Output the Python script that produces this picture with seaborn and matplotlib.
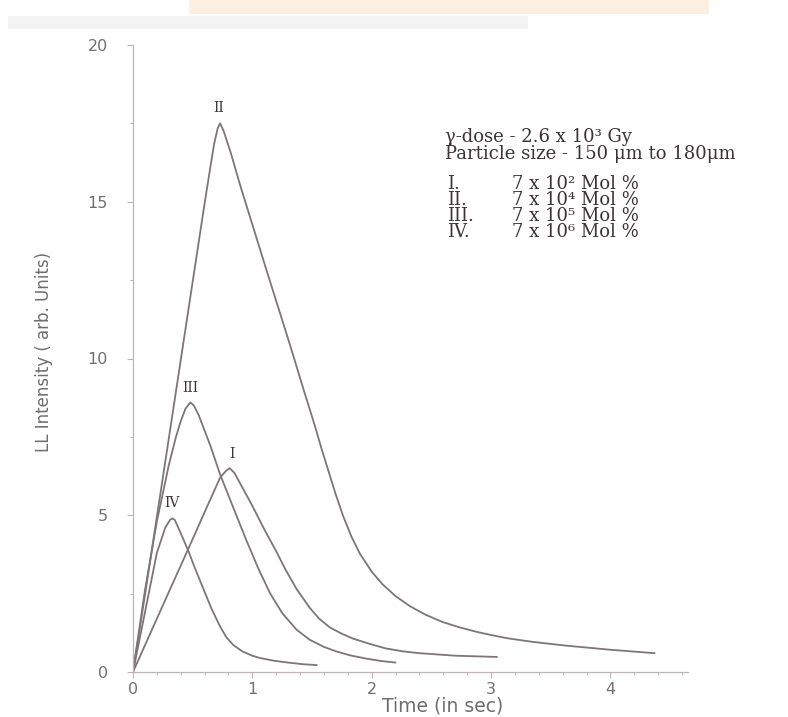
import numpy as np
import pandas as pd
import matplotlib
matplotlib.use("Agg")
import matplotlib.pyplot as plt
import seaborn as sns
from matplotlib.ticker import MultipleLocator
from matplotlib.patches import Rectangle

# ---- data ----
curve_names = ["I", "II", "III", "IV"]

t_I = [0, 0.1, 0.2, 0.3, 0.46, 0.6, 0.73, 0.78, 0.81, 0.85, 0.9, 1.0, 1.1, 1.2, 1.28, 1.37, 1.48, 1.56,
       1.65, 1.75, 1.84, 1.98, 2.12, 2.26, 2.4, 2.7, 3.05]
y_I = [0, 0.85, 1.7, 2.55, 3.9, 5.1, 6.2, 6.42, 6.5, 6.35, 6.0, 5.3, 4.55, 3.85, 3.25, 2.65, 2.05, 1.7,
       1.42, 1.22, 1.07, 0.9, 0.75, 0.66, 0.6, 0.52, 0.48]

t_II = [0, 0.1, 0.2, 0.31, 0.4, 0.48, 0.55, 0.6, 0.65, 0.68, 0.71, 0.73, 0.76, 0.82, 0.9, 1.12, 1.31,
        1.43, 1.52, 1.58, 1.64, 1.70, 1.76, 1.83, 1.9, 2.0, 2.09, 2.2, 2.32, 2.45, 2.59, 2.73, 2.88,
        3.0, 3.13, 3.35, 3.63, 4.0, 4.37]
y_II = [0, 2.45, 4.95, 7.7, 9.95, 11.95, 13.7, 14.95, 16.15, 16.85, 17.35, 17.5, 17.25, 16.55, 15.5, 12.8, 10.5,
        9.0, 7.9, 7.12, 6.38, 5.65, 4.98, 4.32, 3.78, 3.2, 2.8, 2.42, 2.1, 1.83, 1.6, 1.43, 1.28,
        1.18, 1.08, 0.96, 0.84, 0.71, 0.6]

t_III = [0, 0.1, 0.2, 0.3, 0.36, 0.4, 0.44, 0.48, 0.51, 0.55, 0.65, 0.73, 0.85, 0.95, 1.05, 1.15, 1.25,
         1.37, 1.48, 1.6, 1.7, 1.82, 1.95, 2.08, 2.2]
y_III = [0, 2.6, 4.8, 6.6, 7.5, 8.0, 8.4, 8.6, 8.5, 8.2, 7.2, 6.3, 5.15, 4.2, 3.3, 2.5, 1.88,
         1.35, 1.03, 0.8, 0.66, 0.53, 0.43, 0.35, 0.3]

t_IV = [0, 0.1, 0.2, 0.27, 0.31, 0.33, 0.35, 0.38, 0.42, 0.46, 0.52, 0.59, 0.66, 0.73, 0.78, 0.84, 0.92,
        1.0, 1.06, 1.18, 1.3, 1.42, 1.54]
y_IV = [0, 1.9, 3.8, 4.6, 4.85, 4.9, 4.85, 4.6, 4.25, 3.9, 3.3, 2.65, 2.0, 1.45, 1.12, 0.86, 0.65,
        0.52, 0.45, 0.36, 0.3, 0.25, 0.22]

peak_label_x = [0.83, 0.72, 0.48, 0.33]
peak_label_y = [6.95, 18.0, 9.05, 5.4]

x_ticks = [0, 1, 2, 3, 4]
y_ticks = [0, 5, 10, 15, 20]

legend_head = ["\u03b3-dose - 2.6 x 10\u00b3 Gy", "Particle size - 150 \u03bcm to 180\u03bcm"]
legend_ids = ["I.", "II.", "III.", "IV."]
legend_conc = ["7 x 10\u00b2 Mol %", "7 x 10\u2074 Mol %", "7 x 10\u2075 Mol %", "7 x 10\u2076 Mol %"]

# ---- long-form table ----
frames = []
for name, t, y in zip(curve_names, [t_I, t_II, t_III, t_IV], [y_I, y_II, y_III, y_IV]):
    frames.append(pd.DataFrame({"t": t, "LL": y, "curve": name}))
df = pd.concat(frames, ignore_index=True)

# ---- style ----
sns.set_theme(style="ticks")
plt.rcParams["font.family"] = ["DejaVu Sans"]

W, H = 788, 717
fig = plt.figure(figsize=(W / 100, H / 100), dpi=100)
fig.patch.set_facecolor("white")

# faint scan artefacts at the top edge
fig.patches.append(Rectangle((0.24, 0.981), 0.66, 0.019, transform=fig.transFigure,
                             facecolor="#fdf0e2", edgecolor="none", zorder=0))
fig.patches.append(Rectangle((0.01, 0.960), 0.66, 0.018, transform=fig.transFigure,
                             facecolor="#f3f3f3", edgecolor="none", zorder=0))

ax = fig.add_axes([133 / W, 1 - 672 / H, (688 - 133) / W, (672 - 45) / H])
ax.set_facecolor("none")

line_col = "#7e7676"
sns.lineplot(data=df, x="t", y="LL", hue="curve", units="curve", estimator=None, sort=False,
             palette={n: line_col for n in curve_names}, legend=False, linewidth=1.3, ax=ax)

ax.set_xlim(0, 4.65)
ax.set_ylim(0, 20)
ax.set_xticks(x_ticks)
ax.set_yticks(y_ticks)
ax.xaxis.set_minor_locator(MultipleLocator(0.2))
ax.yaxis.set_minor_locator(MultipleLocator(2.5))

for s in ["top", "right"]:
    ax.spines[s].set_visible(False)
for s in ["left", "bottom"]:
    ax.spines[s].set_color("#bdb5b5")
    ax.spines[s].set_linewidth(0.9)

ax.tick_params(axis="both", which="both", direction="out", color="#bdb5b5", width=0.8)
ax.tick_params(axis="both", which="major", length=4, labelsize=11.5, labelcolor="#707070")
ax.tick_params(axis="both", which="minor", length=2.5)
ax.tick_params(axis="y", which="major", pad=14)
ax.tick_params(axis="x", which="major", pad=3)

ax.set_xlabel("Time (in sec)", fontsize=13.5, color="#6e6e6e")
ax.set_ylabel("LL Intensity ( arb. Units)", fontsize=12, color="#6e6e6e")
ax.xaxis.set_label_coords((443 - 133) / (688 - 133), (672 - 697) / (672 - 45))
ax.yaxis.set_label_coords((53 - 133) / (688 - 133), (672 - 352) / (672 - 45))

# peak labels
for name, lx, ly in zip(curve_names, peak_label_x, peak_label_y):
    ax.text(lx, ly, name, fontsize=10, family="DejaVu Serif", color="#3c3636",
            ha="center", va="center")

# legend block (multi-line texts so rows sit tightly as in the scan)
serif = dict(family="DejaVu Serif", fontsize=13, color="#3a3434", va="top", ha="left")
fig.text(445 / W, 1 - 128 / H, "\n".join(legend_head), linespacing=0.91, **serif)
fig.text(447 / W, 1 - 175 / H, "\n".join(legend_ids), linespacing=0.86, **serif)
fig.text(512 / W, 1 - 175 / H, "\n".join(legend_conc), linespacing=0.86, **serif)

fig.savefig("out.png", dpi=100)
